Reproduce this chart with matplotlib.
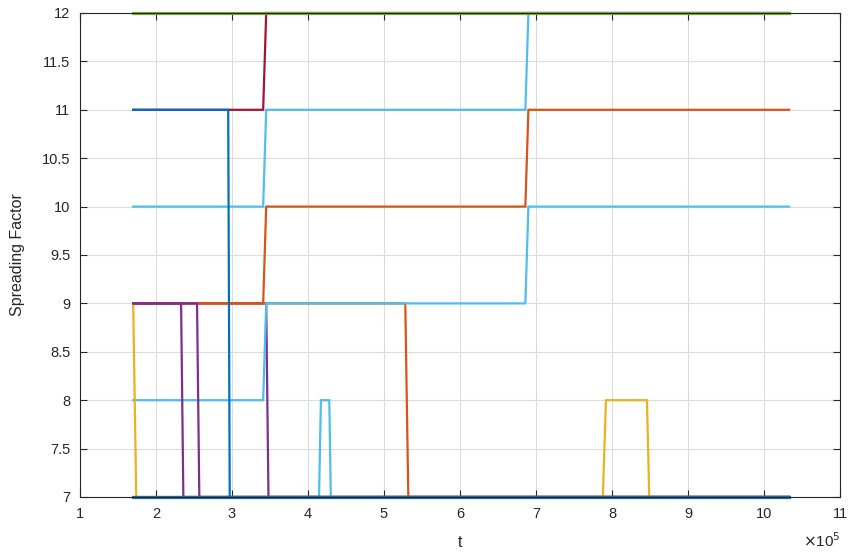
import matplotlib
matplotlib.use("Agg")
import matplotlib.pyplot as plt
import numpy as np
from matplotlib.ticker import FuncFormatter

plt.rcParams['font.family'] = ['Liberation Sans', 'DejaVu Sans']

# time values in units of 1e5 (scaled when plotted)
dark_red_t = [1.70, 3.41, 3.45, 10.33]
dark_red_y = [11, 11, 12, 12]
lblue_a_t = [1.70, 3.41, 3.45, 6.86, 6.90, 10.33]
lblue_a_y = [10, 10, 11, 11, 12, 12]
purple_c_t = [1.70, 3.45, 3.48, 10.33]
purple_c_y = [9, 9, 7, 7]
orange_c_t = [1.70, 5.28, 5.32, 10.33]
orange_c_y = [9, 9, 7, 7]
orange_a_t = [1.70, 3.41, 3.45, 6.86, 6.90, 10.33]
orange_a_y = [9, 9, 10, 10, 11, 11]
lblue_b_t = [1.70, 3.41, 3.45, 6.86, 6.90, 10.33]
lblue_b_y = [8, 8, 9, 9, 10, 10]
lblue_c_t = [1.70, 4.145, 4.17, 4.28, 4.30, 10.33]
lblue_c_y = [7, 7, 8, 8, 7, 7]
yellow_t = [1.70, 1.74, 7.88, 7.92, 8.46, 8.49, 10.33]
yellow_y = [9, 7, 7, 8, 8, 7, 7]
blue_t = [1.70, 2.95, 2.97, 10.33]
blue_y = [11, 11, 7, 7]
purple_a_t = [1.70, 2.33, 2.36, 10.33]
purple_a_y = [9, 9, 7, 7]
purple_b_t = [1.70, 2.54, 2.57, 10.33]
purple_b_y = [9, 9, 7, 7]
green_t = [1.70, 10.33]
green_y = [12, 12]
bottom_t = [1.70, 10.33]
bottom_y = [7, 7]

x_ticks = [1, 2, 3, 4, 5, 6, 7, 8, 9, 10, 11]
y_ticks = [7, 7.5, 8, 8.5, 9, 9.5, 10, 10.5, 11, 11.5, 12]

C_BLUE = (0.0, 0.447, 0.741)
C_ORANGE = (0.85, 0.325, 0.098)
C_YELLOW = (0.929, 0.694, 0.125)
C_PURPLE = (0.494, 0.184, 0.556)
C_GREEN = (0.466, 0.674, 0.188)
C_LBLUE = (0.301, 0.745, 0.933)
C_RED = (0.635, 0.078, 0.184)

series = [
    (dark_red_t, dark_red_y, C_RED, 1.6),
    (lblue_a_t, lblue_a_y, C_LBLUE, 1.6),
    (purple_c_t, purple_c_y, C_PURPLE, 1.6),
    (orange_c_t, orange_c_y, C_ORANGE, 1.6),
    (orange_a_t, orange_a_y, C_ORANGE, 1.6),
    (lblue_b_t, lblue_b_y, C_LBLUE, 1.6),
    (lblue_c_t, lblue_c_y, C_LBLUE, 1.6),
    (yellow_t, yellow_y, C_YELLOW, 1.6),
    (blue_t, blue_y, C_BLUE, 1.6),
    (purple_a_t, purple_a_y, C_PURPLE, 1.6),
    (purple_b_t, purple_b_y, C_PURPLE, 1.6),
    (green_t, green_y, C_GREEN, 2.3),
    (bottom_t, bottom_y, (0.10, 0.42, 0.68), 2.3),
]

fig = plt.figure(figsize=(8.48, 5.55), dpi=100)
ax = fig.add_axes([80/848, (555-497)/555, 760/848, 484/555])

for t, y, c, lw in series:
    ax.plot(np.array(t) * 1e5, y, color=c, lw=lw, clip_on=False, solid_joinstyle='miter')

ax.set_xlim(1e5, 11e5)
ax.set_ylim(7, 12)
ax.set_xticks(np.array(x_ticks) * 1e5)
ax.set_yticks(y_ticks)
ax.set_yticklabels([('%g' % v) for v in y_ticks])
ax.xaxis.set_major_formatter(FuncFormatter(lambda v, p: '%g' % (v / 1e5)))

axc = '#262626'
ax.grid(True, color='#dcdcdc', lw=0.8)
ax.set_axisbelow(True)
for s in ax.spines.values():
    s.set_color(axc)
    s.set_linewidth(0.8)
ax.tick_params(direction='in', length=5, width=0.8, colors=axc, labelsize=10.5,
               top=True, right=True, pad=7)
ax.set_xlabel('t', fontsize=11.5, color=axc)
ax.xaxis.set_label_coords(0.5, -(535 - 497) / 484)
ax.set_ylabel('Spreading Factor', fontsize=11.5, color=axc)
ax.yaxis.set_label_coords(-(80 - 25) / 760, 0.5)
fig.text(822/848, 1 - 541/555, r'$\times$10$^5$', fontsize=11, color=axc,
         ha='center', va='center')

fig.savefig('out.png', dpi=100)
